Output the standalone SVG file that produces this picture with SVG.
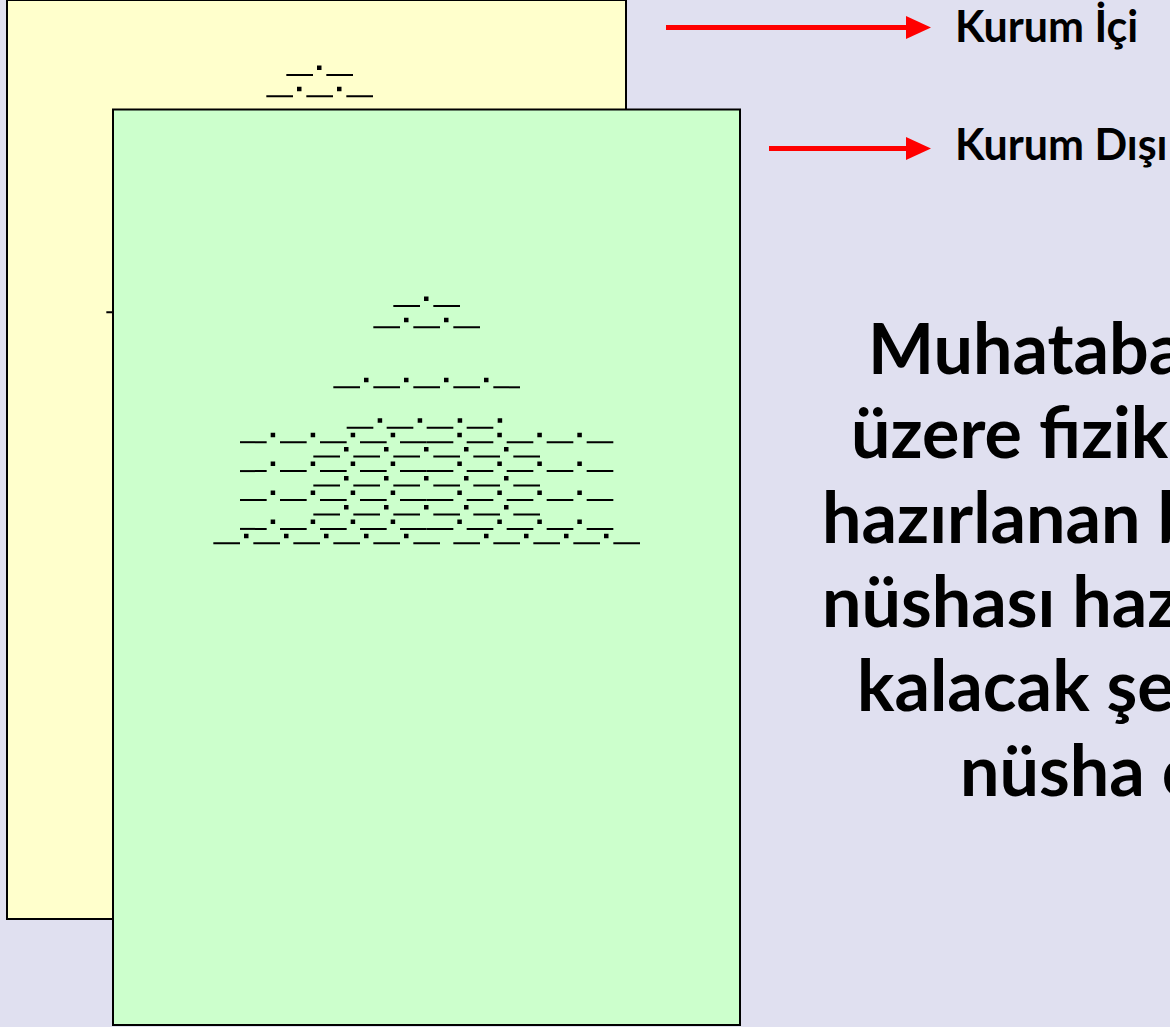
<svg xmlns="http://www.w3.org/2000/svg" xmlns:xlink="http://www.w3.org/1999/xlink" width="1170" height="1027" viewBox="0 0 1170 1027">
<style>
.page{stroke:#000;stroke-width:2}
.d{stroke:#000;stroke-width:2;stroke-dasharray:26.67 13.33;fill:none}
.p{stroke:#000;stroke-width:4.5;stroke-dasharray:4.5 35.5;fill:none}
.lbl{font-family:Lato,"Open Sans","Liberation Sans",sans-serif;font-weight:bold;font-size:43px;fill:#000}
.big{font-family:Lato,"Open Sans","Liberation Sans",sans-serif;font-weight:bold;font-size:70px;fill:#000}
.arr{stroke:#f00;stroke-width:5;fill:none}
</style>
<defs>
<g id="pat">
<line class="d" x1="393.33" y1="306" x2="460" y2="306"/>
<line class="p" x1="424" y1="298.75" x2="428.5" y2="298.75"/>
<line class="d" x1="373.33" y1="327.3" x2="480" y2="327.3"/>
<line class="p" x1="404" y1="320.05" x2="448.5" y2="320.05"/>
<line class="d" x1="333.33" y1="387.3" x2="520" y2="387.3"/>
<line class="p" x1="364" y1="380.05" x2="488.5" y2="380.05"/>
<line class="d" x1="346.67" y1="427.7" x2="493.33" y2="427.7"/>
<line class="p" x1="377.67" y1="420.45" x2="502.17" y2="420.45"/>
<line class="d" x1="240" y1="442.2" x2="426.67" y2="442.2"/>
<line class="d" x1="426.67" y1="442.2" x2="613.33" y2="442.2"/>
<line class="p" x1="270.67" y1="434.95" x2="395.17" y2="434.95"/>
<line class="p" x1="457.33" y1="434.95" x2="581.83" y2="434.95"/>
<line class="d" x1="313.33" y1="456.6" x2="540" y2="456.6"/>
<line class="p" x1="344" y1="449.35" x2="508.5" y2="449.35"/>
<line class="d" x1="240" y1="471.1" x2="426.67" y2="471.1"/>
<line class="d" x1="426.67" y1="471.1" x2="613.33" y2="471.1"/>
<line class="p" x1="270.67" y1="463.85" x2="395.17" y2="463.85"/>
<line class="p" x1="457.33" y1="463.85" x2="581.83" y2="463.85"/>
<line class="d" x1="313.33" y1="485.5" x2="540" y2="485.5"/>
<line class="p" x1="344" y1="478.25" x2="508.5" y2="478.25"/>
<line class="d" x1="240" y1="500" x2="426.67" y2="500"/>
<line class="d" x1="426.67" y1="500" x2="613.33" y2="500"/>
<line class="p" x1="270.67" y1="492.75" x2="395.17" y2="492.75"/>
<line class="p" x1="457.33" y1="492.75" x2="581.83" y2="492.75"/>
<line class="d" x1="313.33" y1="514.4" x2="540" y2="514.4"/>
<line class="p" x1="344" y1="507.15" x2="508.5" y2="507.15"/>
<line class="d" x1="240" y1="528.9" x2="426.67" y2="528.9"/>
<line class="d" x1="426.67" y1="528.9" x2="613.33" y2="528.9"/>
<line class="p" x1="270.67" y1="521.65" x2="395.17" y2="521.65"/>
<line class="p" x1="457.33" y1="521.65" x2="581.83" y2="521.65"/>
<line class="d" x1="213.33" y1="543.3" x2="640" y2="543.3"/>
<line class="p" x1="244" y1="536.05" x2="408.5" y2="536.05"/>
<line class="p" x1="484" y1="536.05" x2="608.5" y2="536.05"/>
</g>
</defs>
<rect width="1170" height="1027" fill="#e0e0f0"/>
<g id="page-kurum-ici">
<rect class="page" x="7" y="0" width="619" height="919" fill="#ffffcc"/>
<use xlink:href="#pat" href="#pat" transform="translate(-107,-231)"/>
</g>
<g id="page-kurum-disi">
<rect class="page" x="113" y="109.5" width="627" height="915.5" fill="#ccffcc"/>
<use xlink:href="#pat" href="#pat"/>
</g>
<g id="connectors">
<line class="arr" x1="666" y1="27.5" x2="910" y2="27.5"/>
<polygon points="906,16 931,27.5 906,39" fill="#f00"/>
<line class="arr" x1="769" y1="148.5" x2="910" y2="148.5"/>
<polygon points="906,137 931,148.5 906,160" fill="#f00"/>
</g>
<g id="label-kurum-ici"><text class="lbl" x="955" y="42">Kurum İçi</text></g>
<g id="label-kurum-disi"><text class="lbl" x="955" y="160">Kurum Dışı</text></g>
<g id="body-text" class="big">
<text x="868" y="374">Muhataba</text>
<text x="851" y="458">üzere fiziks</text>
<text x="822" y="543">hazırlanan b</text>
<text x="822" y="627">nüshası haz</text>
<text x="857" y="711">kalacak şe</text>
<text x="960" y="796">nüsha ç</text>
</g>
</svg>
